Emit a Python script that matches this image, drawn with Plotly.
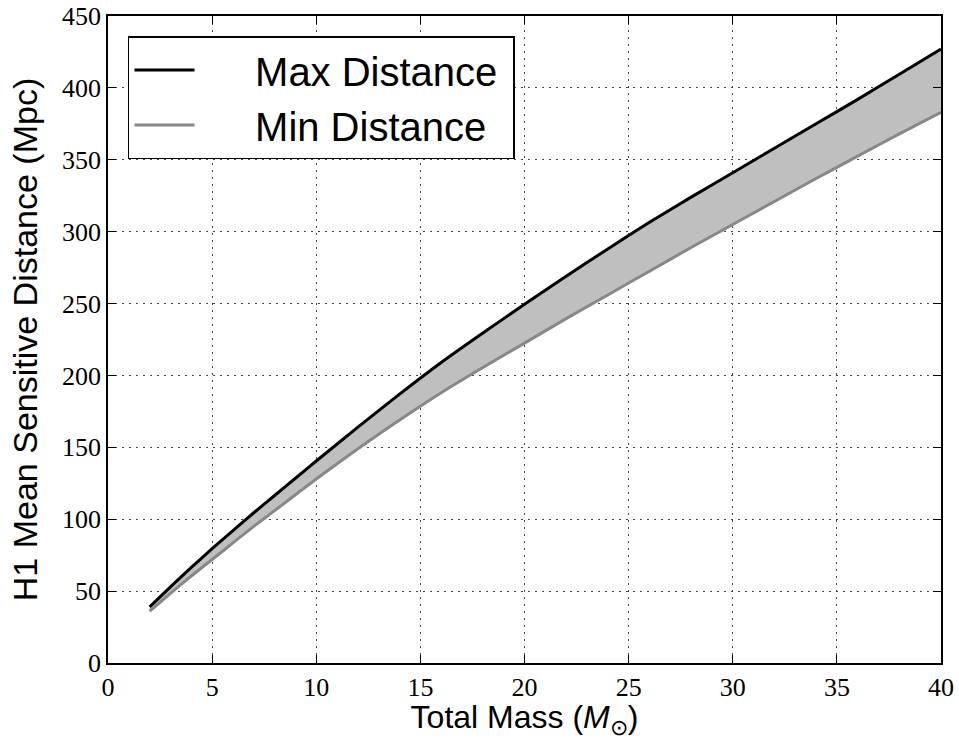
import plotly.graph_objects as go

mass = [2, 3, 4, 5, 6, 7, 8, 9, 10, 12, 14, 16, 18, 20, 22, 24, 26, 28, 30, 32, 34, 36, 38, 40]
max_dist = [39, 53, 66.5, 79.5, 92, 104.5, 116.5, 128.5, 140.5, 164, 187, 209, 229.5, 249.5,
            269, 288, 306.5, 324, 341, 358, 375, 392, 409.5, 427]
min_dist = [36, 48.5, 60.5, 72, 83.5, 95, 106, 117, 128, 149, 169, 188, 205.5, 222.5,
            239.5, 256, 272.5, 289, 305, 321, 337, 352.5, 368, 383]

x_ticks = [0, 5, 10, 15, 20, 25, 30, 35, 40]
y_ticks = [0, 50, 100, 150, 200, 250, 300, 350, 400, 450]

NB = "\u00a0"

fig = go.Figure()
fig.add_trace(go.Scatter(x=mass, y=min_dist, mode="lines", line=dict(width=0, color="#bfbfbf", shape="spline", smoothing=0.6),
                         showlegend=False, hoverinfo="skip"))
fig.add_trace(go.Scatter(x=mass, y=max_dist, mode="lines", line=dict(width=0, color="#bfbfbf", shape="spline", smoothing=0.6),
                         fill="tonexty", fillcolor="#bfbfbf", showlegend=False, hoverinfo="skip"))
fig.add_trace(go.Scatter(x=mass, y=max_dist, mode="lines", name=NB * 5 + "Max Distance" + NB,
                         line=dict(width=3, color="black", shape="spline", smoothing=0.6)))
fig.add_trace(go.Scatter(x=mass, y=min_dist, mode="lines", name=NB * 5 + "Min Distance" + NB,
                         line=dict(width=3, color="#888888", shape="spline", smoothing=0.6)))

axis_common = dict(
    showline=True, linecolor="black", linewidth=1.5, mirror="allticks",
    ticks="inside", ticklen=8, tickwidth=1, tickcolor="black",
    showgrid=True, gridcolor="#444444", gridwidth=1, griddash="2px,5px",
    zeroline=False, automargin=False,
    tickfont=dict(family="Liberation Serif", size=26, color="black"),
)

fig.update_xaxes(range=[0, 40], tickvals=x_ticks, ticktext=[str(v) for v in x_ticks],
                 title=dict(text="Total Mass (<i>M</i><sub>⊙</sub>)", standoff=10,
                            font=dict(family="Liberation Sans", size=32, color="black")),
                 **axis_common)
fig.update_yaxes(range=[0, 450], tickvals=y_ticks, ticktext=[str(v) for v in y_ticks],
                 title=dict(text="H1 Mean Sensitive Distance (Mpc)", standoff=14,
                            font=dict(family="Liberation Sans", size=34, color="black")),
                 **axis_common)

fig.update_layout(
    width=959, height=740,
    margin=dict(l=108, r=18, t=16, b=77),
    paper_bgcolor="white", plot_bgcolor="white",
    legend=dict(x=0.024, y=0.969, xanchor="left", yanchor="top",
                bgcolor="white", bordercolor="black", borderwidth=1.5,
                font=dict(family="Liberation Sans", size=40, color="black"),
                itemwidth=60, tracegroupgap=0, traceorder="normal"),
)

fig.write_html("out.html")
